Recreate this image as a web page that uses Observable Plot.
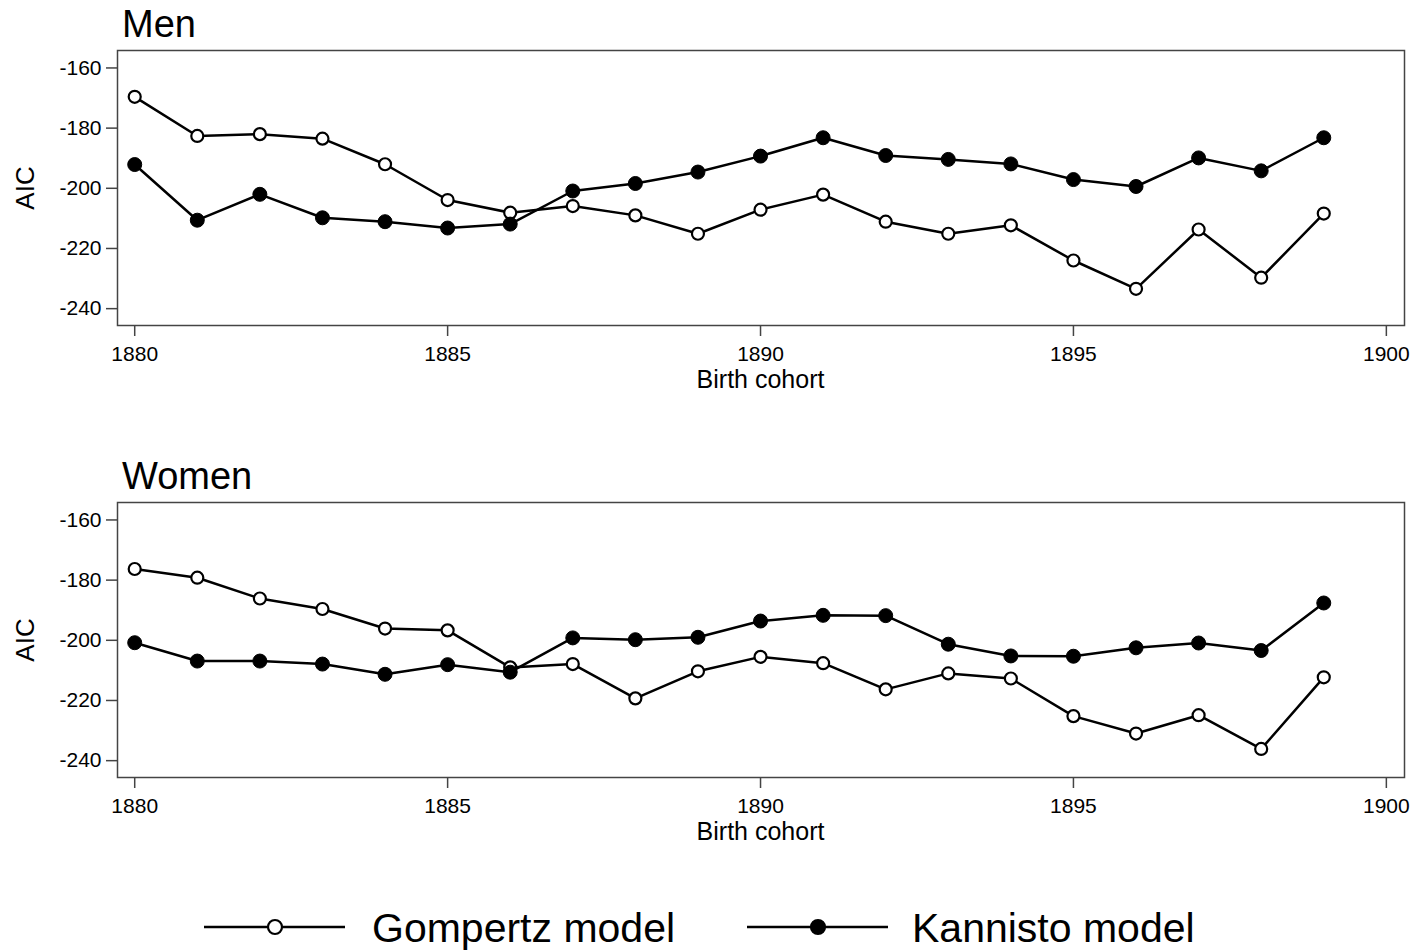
<!DOCTYPE html>
<html>
<head>
<meta charset="utf-8">
<script src="https://cdn.jsdelivr.net/npm/d3@7"></script>
<script src="https://cdn.jsdelivr.net/npm/@observablehq/plot@0.6"></script>
<style>
  html, body { margin: 0; padding: 0; background: #fff; }
  body { width: 1417px; height: 950px; position: relative; overflow: hidden;
         font-family: "Liberation Sans", Arial, sans-serif; color: #000; }
  .title { position: absolute; left: 122px; font-size: 38px; line-height: 38px; white-space: nowrap; }
  .panel { position: absolute; left: 0; }
  #legend { position: absolute; left: 0; top: 880px; }
</style>
</head>
<body>
<div class="title" style="top:5px">Men</div>
<div class="title" style="top:457px">Women</div>
<div class="panel" id="men" style="top:40px"></div>
<div class="panel" id="women" style="top:492px"></div>
<svg id="legend" width="1417" height="70"></svg>
<script>
const years = [1880,1881,1882,1883,1884,1885,1886,1887,1888,1889,1890,1891,1892,1893,1894,1895,1896,1897,1898,1899];
const menGompertz   = [-169.6,-182.6,-182.0,-183.5,-192.0,-203.9,-208.1,-205.9,-209.0,-215.1,-207.1,-202.1,-211.1,-215.1,-212.3,-224.0,-233.4,-213.7,-229.7,-208.4];
const menKannisto   = [-192.1,-210.6,-202.0,-209.8,-211.1,-213.2,-211.9,-200.9,-198.4,-194.6,-189.3,-183.2,-189.1,-190.4,-191.9,-197.1,-199.4,-189.9,-194.2,-183.2];
const womenGompertz = [-176.3,-179.2,-186.1,-189.6,-196.1,-196.7,-209.0,-207.9,-219.3,-210.3,-205.5,-207.6,-216.3,-211.0,-212.7,-225.2,-231.0,-224.9,-236.1,-212.3];
const womenKannisto = [-200.8,-206.9,-206.9,-207.9,-211.3,-208.1,-210.6,-199.2,-199.8,-199.0,-193.6,-191.7,-191.8,-201.3,-205.2,-205.3,-202.5,-200.9,-203.4,-187.6];
const xTicks = [1880,1885,1890,1895,1900];
const yTicks = [-160,-180,-200,-220,-240];
const models = ["Gompertz model","Kannisto model"];

function panel(gomp, kann) {
  const g = years.map((x, i) => ({x, y: gomp[i]}));
  const k = years.map((x, i) => ({x, y: kann[i]}));
  return Plot.plot({
    width: 1417, height: 360,
    marginLeft: 117, marginRight: 13, marginTop: 10, marginBottom: 75,
    style: {fontFamily: '"Liberation Sans", Arial, sans-serif', fontSize: "21px", color: "#000", background: "#fff"},
    x: {domain: [1879.725, 1900.29], ticks: xTicks, tickFormat: d => String(d)},
    y: {domain: [-245.6, -154.2], ticks: yTicks, tickFormat: d => String(d)},
    marks: [
      Plot.frame({stroke: "#444", strokeWidth: 1.5}),
      Plot.axisX({ticks: xTicks, tickSize: 11, tickPadding: 10, label: null, fontSize: 21, stroke: "#444", strokeWidth: 1.5, tickFormat: d => String(d)}),
      Plot.axisY({ticks: yTicks, tickSize: 11, tickPadding: 5, label: null, fontSize: 21, stroke: "#444", strokeWidth: 1.5, tickFormat: d => String(d)}),
      Plot.text(["Birth cohort"], {x: 1890, frameAnchor: "bottom", lineAnchor: "top", dy: 45, fontSize: 25, fill: "#000"}),
      Plot.text(["AIC"], {frameAnchor: "left", rotate: -90, dx: -92, fontSize: 26, fill: "#000", textAnchor: "middle"}),
      Plot.line(g, {x: "x", y: "y", stroke: "#000", strokeWidth: 2.5}),
      Plot.line(k, {x: "x", y: "y", stroke: "#000", strokeWidth: 2.5}),
      Plot.dot(g, {x: "x", y: "y", r: 6, fill: "#fff", stroke: "#000", strokeWidth: 2.2}),
      Plot.dot(k, {x: "x", y: "y", r: 7, fill: "#000", stroke: "#000", strokeWidth: 1})
    ]
  });
}
document.getElementById("men").append(panel(menGompertz, menKannisto));
document.getElementById("women").append(panel(womenGompertz, womenKannisto));

// legend
const leg = d3.select("#legend");
const items = [
  {label: models[0], x0: 204, fill: "#fff", textX: 372},
  {label: models[1], x0: 747, fill: "#000", textX: 912}
];
const ly = 47;
items.forEach(it => {
  leg.append("line").attr("x1", it.x0).attr("x2", it.x0 + 141).attr("y1", ly).attr("y2", ly)
     .attr("stroke", "#000").attr("stroke-width", 2.5);
  leg.append("circle").attr("cx", it.x0 + 71).attr("cy", ly).attr("r", 7)
     .attr("fill", it.fill).attr("stroke", "#000").attr("stroke-width", 2.2);
  leg.append("text").attr("x", it.textX).attr("y", ly + 15).text(it.label)
     .attr("font-size", 41).attr("font-family", '"Liberation Sans", Arial, sans-serif').attr("fill", "#000");
});
</script>
</body>
</html>
